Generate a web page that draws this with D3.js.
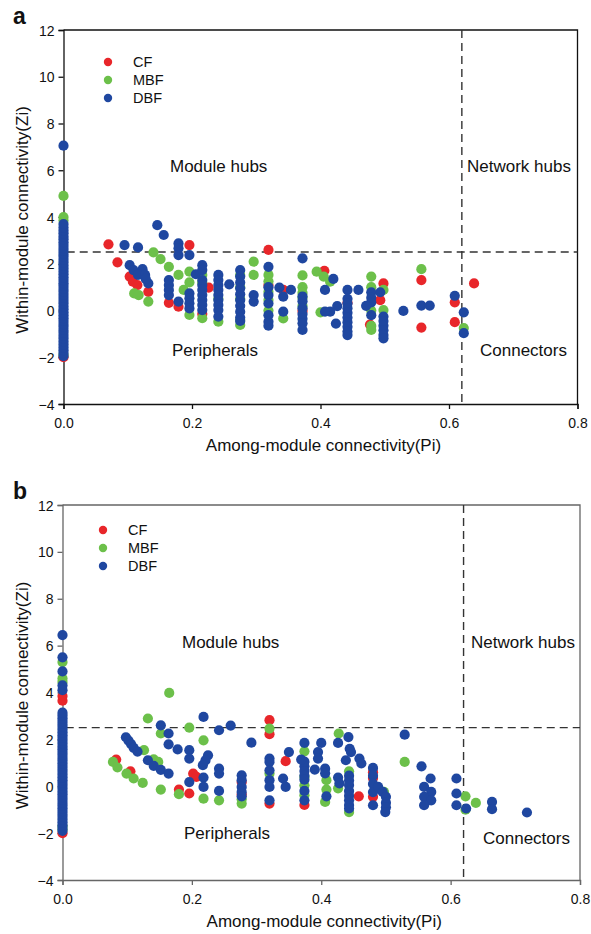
<!DOCTYPE html>
<html>
<head>
<meta charset="utf-8">
<script src="https://cdn.jsdelivr.net/npm/d3@7"></script>
<style>
  body { margin: 0; background: #fff; }
  text { font-family: "Liberation Sans", Arial, sans-serif; fill: #111; }
</style>
</head>
<body>
<div id="chart"></div>
<script>
// series names and colours
var series = ["CF", "MBF", "DBF"];
var colors = ["#e8262a", "#6cc04a", "#1f47a0"];

var xTicks = [0, 0.2, 0.4, 0.6, 0.8];
var yTicks = [-4, -2, 0, 2, 4, 6, 8, 10, 12];
var zCut = 2.5, pCut = 0.62;

// panel a  [Pi, Zi]
var aCF = [[0,-2.0],[0.070,2.83],[0.084,2.06],[0.103,1.45],[0.108,1.23],[0.115,1.09],[0.132,0.80],
  [0.164,0.33],[0.179,0.16],[0.196,2.80],[0.216,-0.15],[0.226,0.98],[0.319,2.59],[0.319,1.09],
  [0.342,0.88],[0.372,-0.02],[0.406,1.70],[0.442,0.33],[0.477,-0.6],[0.498,1.16],[0.493,0.44],
  [0.557,1.30],[0.557,-0.73],[0.609,0.35],[0.609,-0.5],[0.639,1.16]];

var aMBF = [[0,4.9],[0,4.0],[0,3.85],[0,-1.9],[0.140,2.49],[0.151,2.20],[0.164,1.87],[0.110,0.73],
  [0.117,0.66],[0.132,0.38],[0.179,1.52],[0.187,0.88],[0.196,1.66],[0.196,1.20],[0.196,-0.19],
  [0.216,1.52],[0.216,1.2],[0.216,-0.33],[0.241,0.5],[0.241,-0.48],[0.275,1.52],[0.275,1.0],
  [0.275,0.5],[0.275,-0.4],[0.275,-0.62],[0.296,2.09],[0.296,1.52],[0.319,1.52],[0.319,1.25],
  [0.319,0.8],[0.319,0.45],[0.319,0.0],[0.342,-0.34],[0.372,1.5],[0.372,1.0],[0.372,0.75],
  [0.372,0.55],[0.372,0.2],[0.394,1.66],[0.405,1.45],[0.415,1.23],[0.400,-0.08],[0.479,1.45],
  [0.479,1.0],[0.479,0.0],[0.479,-0.66],[0.479,-0.83],[0.498,0.88],[0.498,0.02],[0.557,1.77],
  [0.623,-0.75]];

var aDBF = [[0,7.05],[0,-1.95],[0,-1.82],[0,-1.7],[0,-1.58],[0,-1.45],[0,-1.33],[0,-1.2],[0,-1.08],
  [0,-0.95],[0,-0.83],[0,-0.7],[0,-0.58],[0,-0.45],[0,-0.33],[0,-0.2],[0,-0.08],[0,0.05],[0,0.17],
  [0,0.3],[0,0.42],[0,0.55],[0,0.67],[0,0.8],[0,0.92],[0,1.05],[0,1.17],[0,1.3],[0,1.42],[0,1.55],
  [0,1.67],[0,1.8],[0,1.92],[0,2.05],[0,2.17],[0,2.3],[0,2.42],[0,2.55],[0,2.67],[0,2.8],[0,2.92],
  [0,3.05],[0,3.17],[0,3.3],[0,3.42],[0,3.55],[0,3.7],
  [0.146,3.65],[0.156,3.23],[0.095,2.80],[0.116,2.70],[0.179,2.87],[0.179,2.66],[0.179,2.37],
  [0.179,0.38],[0.196,2.37],[0.103,1.94],[0.109,1.73],[0.123,1.77],[0.116,1.52],[0.127,1.52],
  [0.132,1.16],[0.128,1.35],[0.164,1.30],[0.164,1.09],[0.164,0.88],[0.164,0.66],[0.196,0.73],
  [0.196,0.52],[0.196,0.31],[0.196,0.09],[0.206,1.55],
  [0.216,1.94],[0.216,1.73],[0.216,1.3],[0.216,1.09],[0.216,0.88],[0.216,0.66],[0.216,0.45],
  [0.216,0.24],[0.216,0.02],[0.258,1.12],
  [0.241,1.52],[0.241,1.30],[0.241,1.09],[0.241,0.88],[0.241,0.66],[0.241,0.45],[0.241,0.24],
  [0.241,0.02],[0.241,-0.26],
  [0.275,1.73],[0.275,1.45],[0.275,1.2],[0.275,0.95],[0.275,0.7],[0.275,0.45],[0.275,0.2],
  [0.275,-0.05],[0.275,-0.3],[0.275,-0.45],[0.296,0.66],[0.296,0.38],
  [0.319,1.87],[0.319,1.0],[0.319,0.66],[0.319,0.3],[0.319,-0.2],[0.319,-0.48],[0.319,-0.65],
  [0.336,0.98],[0.354,0.88],[0.342,0.59],[0.342,-0.05],
  [0.372,2.23],[0.372,0.6],[0.372,0.4],[0.372,0.1],[0.372,-0.15],[0.372,-0.35],[0.372,-0.55],
  [0.372,-0.83],[0.420,1.35],[0.407,0.88],[0.415,-0.05],[0.407,-0.05],[0.426,0.19],[0.424,-0.56],
  [0.442,0.88],[0.442,0.5],[0.442,0.3],[0.442,0.1],[0.442,-0.1],[0.442,-0.3],[0.442,-0.5],
  [0.442,-0.7],[0.442,-0.9],[0.442,-1.05],[0.459,0.88],
  [0.479,0.78],[0.479,0.55],[0.479,0.35],[0.479,-0.2],[0.471,0.2],[0.493,0.78],
  [0.498,-0.26],[0.498,-0.45],[0.498,-0.65],[0.498,-0.85],[0.498,-1.05],[0.498,-1.19],
  [0.529,-0.02],[0.557,0.21],[0.570,0.21],[0.609,0.63],[0.623,-0.08],[0.623,-0.97]];

// panel b  [Pi, Zi]
var bCF = [[0,-2.0],[0,3.65],[0,3.85],[0.083,1.14],[0.105,0.64],[0.180,-0.14],[0.196,-0.31],
  [0.202,0.54],[0.207,0.40],[0.277,0.18],[0.277,-0.35],[0.320,2.82],[0.320,2.22],[0.320,-0.74],
  [0.345,1.07],[0.374,-0.8],[0.458,-0.43],[0.480,0.6],[0.480,0.35],[0.480,-0.45]];

var bMBF = [[0,5.3],[0,4.6],[0,4.45],[0,-1.7],[0,-1.85],[0.165,3.98],[0.132,2.89],[0.152,2.25],
  [0.196,2.50],[0.218,1.96],[0.126,1.54],[0.141,1.15],[0.148,1.04],[0.078,1.04],[0.085,0.80],
  [0.099,0.54],[0.110,0.33],[0.124,0.14],[0.152,-0.14],[0.180,-0.34],[0.218,-0.53],[0.242,-0.6],
  [0.277,-0.55],[0.277,-0.74],[0.320,2.46],[0.320,0.54],[0.374,1.49],[0.374,0.4],[0.374,0.04],
  [0.374,-0.38],[0.408,0.26],[0.408,-0.14],[0.406,-0.67],[0.427,2.25],[0.443,0.64],[0.426,-0.09],
  [0.443,-1.1],[0.497,-0.24],[0.529,1.04],[0.623,-0.43],[0.623,-1.0],[0.639,-0.71]];

var bDBF = [[0,6.45],[0,5.5],[0,4.9],[0,4.3],[0,4.1],[0,-1.9],[0,-1.78],[0,-1.66],[0,-1.54],
  [0,-1.42],[0,-1.3],[0,-1.18],[0,-1.06],[0,-0.94],[0,-0.82],[0,-0.7],[0,-0.58],[0,-0.46],[0,-0.34],
  [0,-0.22],[0,-0.1],[0,0.02],[0,0.14],[0,0.26],[0,0.38],[0,0.5],[0,0.62],[0,0.74],[0,0.86],[0,0.98],
  [0,1.1],[0,1.22],[0,1.34],[0,1.46],[0,1.58],[0,1.7],[0,1.82],[0,1.94],[0,2.06],[0,2.18],[0,2.3],
  [0,2.42],[0,2.54],[0,2.66],[0,2.78],[0,2.9],[0,3.02],[0,3.14],
  [0.152,2.60],[0.164,2.25],[0.164,1.79],[0.218,2.96],[0.242,2.39],[0.260,2.59],[0.292,1.86],
  [0.098,2.09],[0.102,1.95],[0.106,1.8],[0.110,1.64],[0.116,1.48],[0.132,1.11],[0.141,0.87],
  [0.152,0.70],[0.164,0.54],[0.178,1.57],[0.196,1.54],[0.196,1.18],[0.225,1.32],[0.221,1.1],
  [0.217,0.9],[0.218,0.37],[0.218,-0.03],[0.196,0.18],[0.242,0.75],[0.242,0.54],[0.242,-0.2],
  [0.277,0.47],[0.277,0.26],[0.277,-0.03],[0.277,-0.24],[0.277,-0.43],
  [0.320,1.18],[0.320,1.04],[0.320,0.68],[0.320,0.26],[0.320,-0.03],[0.320,-0.6],
  [0.341,0.33],[0.345,-0.03],[0.350,1.46],
  [0.374,1.85],[0.374,1.05],[0.374,0.85],[0.374,0.65],[0.374,0.45],[0.374,0.28],[0.374,-0.2],
  [0.374,-0.6],[0.369,1.14],[0.395,1.46],[0.395,1.18],[0.400,1.85],[0.390,0.71],[0.406,0.75],
  [0.406,0.55],[0.408,-0.43],[0.426,1.85],[0.442,2.1],[0.444,1.6],[0.446,1.46],[0.438,1.11],
  [0.426,0.37],[0.428,0.12],
  [0.443,0.45],[0.443,0.25],[0.443,0.05],[0.443,-0.2],[0.443,-0.4],[0.443,-0.6],[0.443,-0.8],
  [0.443,-0.95],[0.459,1.18],[0.462,0.97],
  [0.480,0.78],[0.480,0.45],[0.480,0.1],[0.480,-0.25],[0.480,-0.81],
  [0.488,-0.03],[0.495,-0.24],[0.500,-0.45],[0.500,-0.7],[0.500,-0.9],[0.499,-1.1],
  [0.529,2.2],[0.555,0.85],[0.569,0.33],[0.559,-0.03],[0.570,-0.24],[0.559,-0.45],[0.570,-0.6],
  [0.559,-0.81],[0.609,0.33],[0.609,-0.31],[0.609,-0.81],[0.624,-0.95],[0.664,-0.67],
  [0.664,-0.98],[0.718,-1.12]];

var svg = d3.select("#chart").append("svg")
    .attr("width", 591)
    .attr("height", 934);

function drawPanel(opt) {
  var x = d3.scaleLinear().domain([0, 0.8]).range([opt.left, opt.right]);
  var y = d3.scaleLinear().domain([-4, 12]).range([opt.bottom, opt.top]);
  var g = svg.append("g");

  // box: top and right sides
  g.append("path")
    .attr("d", "M" + opt.left + "," + opt.top + "H" + opt.right + "V" + opt.bottom)
    .attr("fill", "none").attr("stroke", opt.axisColor).attr("stroke-width", 1.3);

  var yAxis = g.append("g")
    .attr("transform", "translate(" + opt.left + ",0)")
    .call(d3.axisLeft(y).tickValues(yTicks).tickSize(5).tickPadding(4).tickFormat(d3.format("d")));
  var xAxis = g.append("g")
    .attr("transform", "translate(0," + opt.bottom + ")")
    .call(d3.axisBottom(x).tickValues(xTicks).tickSize(5).tickPadding(9).tickFormat(d3.format(".1f")));
  [xAxis, yAxis].forEach(function(ax) {
    ax.select(".domain").attr("stroke", opt.axisColor).attr("stroke-width", 1.3);
    ax.selectAll(".tick line").attr("stroke", opt.axisColor).attr("stroke-width", 1.3);
    ax.selectAll(".tick text").attr("font-size", 14).attr("fill", "#222")
      .attr("font-family", "Liberation Sans, Arial, sans-serif");
  });
  yAxis.selectAll(".tick text").attr("dy", "0.36em");

  // threshold lines
  g.append("line")
    .attr("x1", x(0.005)).attr("x2", x(0.8))
    .attr("y1", y(zCut)).attr("y2", y(zCut))
    .attr("stroke", "#333").attr("stroke-width", 1.4).attr("stroke-dasharray", "8,5");
  g.append("line")
    .attr("x1", x(pCut)).attr("x2", x(pCut))
    .attr("y1", y(12)).attr("y2", y(-4))
    .attr("stroke", "#333").attr("stroke-width", 1.4).attr("stroke-dasharray", "8,5");

  // points
  opt.data.forEach(function(pts, i) {
    g.append("g").selectAll("circle")
      .data(pts)
      .join("circle")
      .attr("cx", function(d) { return x(d[0]); })
      .attr("cy", function(d) { return y(d[1]); })
      .attr("r", 5.1)
      .attr("fill", colors[i]);
  });

  // legend
  series.forEach(function(s, i) {
    g.append("circle")
      .attr("cx", opt.legX).attr("cy", opt.legY + i * 18)
      .attr("r", 4.2).attr("fill", colors[i]);
    g.append("text")
      .attr("x", opt.legX + 25).attr("y", opt.legY + i * 18 + 5)
      .attr("font-size", 14.5).text(s);
  });

  // region labels
  opt.labels.forEach(function(l) {
    g.append("text").attr("x", l[1]).attr("y", l[2])
      .attr("font-size", 17).text(l[0]);
  });

  // axis titles
  g.append("text")
    .attr("x", (opt.left + opt.right) / 2 + 3).attr("y", opt.bottom + 47)
    .attr("text-anchor", "middle").attr("font-size", 17)
    .text("Among-module connectivity(Pi)");
  g.append("text")
    .attr("transform", "translate(28," + ((opt.top + opt.bottom) / 2 + 3) + ") rotate(-90)")
    .attr("text-anchor", "middle").attr("font-size", 17)
    .text("Within-module connectivity(Zi)");

  g.append("text")
    .attr("x", 13).attr("y", opt.top - 6)
    .attr("font-size", 23).attr("font-weight", "bold")
    .text(opt.letter);
}

drawPanel({
  letter: "a", left: 63.5, right: 577.5, top: 30, bottom: 404, axisColor: "#111",
  data: [aCF, aMBF, aDBF], legX: 108, legY: 62,
  labels: [["Module hubs", 170, 172], ["Network hubs", 467, 172],
           ["Peripherals", 172, 356], ["Connectors", 480, 356]]
});

drawPanel({
  letter: "b", left: 62.5, right: 580, top: 505, bottom: 880, axisColor: "#666",
  data: [bCF, bMBF, bDBF], legX: 103, legY: 530,
  labels: [["Module hubs", 182, 648], ["Network hubs", 471, 648],
           ["Peripherals", 184, 839], ["Connectors", 483, 844]]
});
</script>
</body>
</html>
